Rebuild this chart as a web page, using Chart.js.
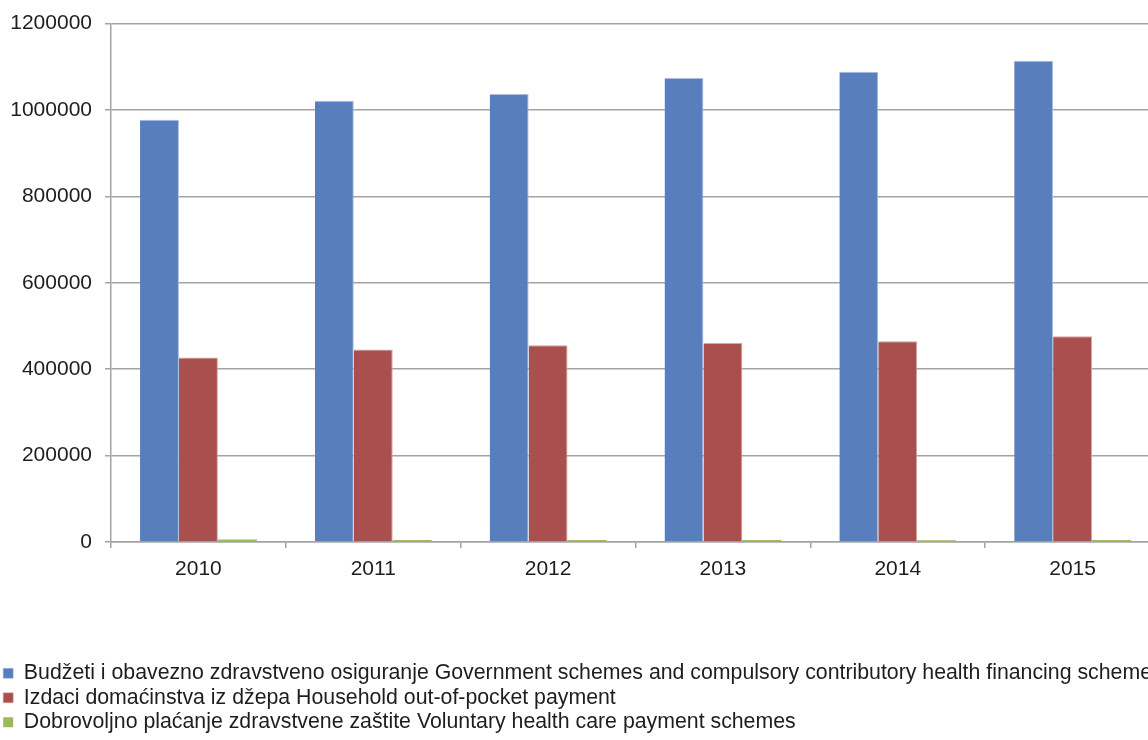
<!DOCTYPE html>
<html>
<head>
<meta charset="utf-8">
<script src="https://cdn.jsdelivr.net/npm/chart.js@4.4.0/dist/chart.umd.min.js"></script>
<style>
	html, body { margin: 0; padding: 0; background: #fff; overflow: hidden; }
	#wrap { width: 1148px; height: 740px; overflow: hidden; }
</style>
</head>
<body>
<div id="wrap"><canvas id="myChart" width="1160" height="743"></canvas></div>
<script>
// godine
const years = ['2010', '2011', '2012', '2013', '2014', '2015']
// Budžeti i obavezno zdravstveno osiguranje
const govSchemes = [977000, 1021500, 1037000, 1074000, 1088500, 1114000]
// Izdaci domaćinstva iz džepa
const outOfPocket = [427000, 445300, 455300, 460600, 464500, 476100]
// Dobrovoljno plaćanje
const voluntary = [6000, 4500, 4500, 4500, 4000, 4500]
const seriesNames = [
	'Budžeti i obavezno zdravstveno osiguranje Government schemes and compulsory contributory health financing schemes',
	'Izdaci domaćinstva iz džepa Household out-of-pocket payment',
	'Dobrovoljno plaćanje zdravstvene zaštite Voluntary health care payment schemes'
]
const yTicks = [0, 200000, 400000, 600000, 800000, 1000000, 1200000]

let font = 'Liberation Sans, Arial, sans-serif'
let txt = '#1e1e1e'
let gridCol = '#a3a3a3'

let ctx = document.getElementById('myChart')
let myBarChart = new Chart(ctx, {
	type: 'bar',
	data: {
		labels: years,
		datasets: [
			{ label: seriesNames[0], data: govSchemes, backgroundColor: '#587ebe', borderColor: '#a9bde2', borderWidth: {top: 1, right: 1} },
			{ label: seriesNames[1], data: outOfPocket, backgroundColor: '#a94f4e', borderColor: '#d9a2a1', borderWidth: {top: 1, right: 1} },
			{ label: seriesNames[2], data: voluntary, backgroundColor: '#9bbb59', borderColor: '#9bbb59', borderWidth: 0 }
		]
	},
	options: {
		responsive: false,
		animation: false,
		categoryPercentage: 0.668,
		barPercentage: 1,
		layout: { padding: { top: 23, left: 0, right: 0, bottom: 0 } },
		plugins: {
			tooltip: { enabled: false },
			legend: {
				position: 'bottom',
				align: 'start',
				labels: {
					boxWidth: 10,
					boxHeight: 10,
					padding: 3.2,
					color: txt,
					font: { family: font, size: 21.3 }
				}
			}
		},
		scales: {
			x: {
				grid: { offset: true, drawOnChartArea: false, tickLength: 6, color: gridCol, lineWidth: 1.5 },
				border: { color: gridCol, width: 1.5 },
				ticks: { color: txt, padding: 9, font: { family: font, size: 21 }, maxRotation: 0 },
				afterFit: s => { s.height = 117.5 }
			},
			y: {
				min: 0,
				max: 1200000,
				afterBuildTicks: s => { s.ticks = yTicks.map(v => ({ value: v })) },
				afterFit: s => { s.width = 111 },
				grid: { tickLength: 6, color: gridCol, lineWidth: 1.5 },
				border: { color: gridCol, width: 1.5 },
				ticks: { color: txt, padding: 13, font: { family: font, size: 21, lineHeight: 1 }, callback: v => String(v) }
			}
		}
	}
})
</script>
</body>
</html>
